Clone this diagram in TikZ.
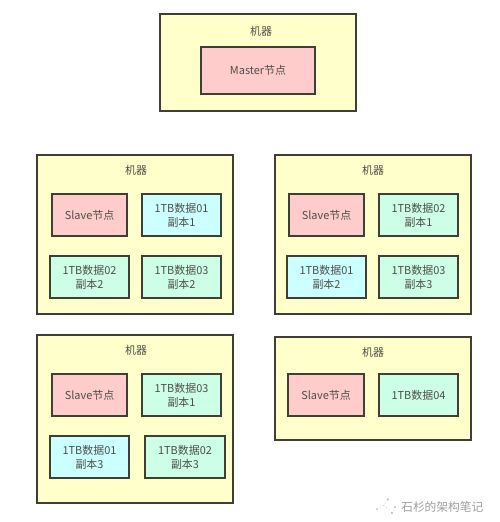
\documentclass[tikz,border=0pt]{standalone}
\usepackage{fontspec}
\setmainfont{Noto Sans CJK SC}
\definecolor{mach}{HTML}{FFFFCC}
\definecolor{pinkb}{HTML}{FFCCCC}
\definecolor{blueb}{HTML}{CCFFFF}
\definecolor{greenb}{HTML}{CCFFE6}
\definecolor{edgec}{HTML}{3F3F38}
\definecolor{txt}{HTML}{4E4E46}
\newcommand{\bx}[7]{%
  \pgfmathsetmacro{\bw}{(#4-#2)*0.75}%
  \pgfmathsetmacro{\bh}{(#5-#3)*0.75}%
  \node[#6, minimum width=\bw pt, minimum height=\bh pt] (#1) at ({(#2+#4)/2},{(#3+#5)/2}) {#7};}
\tikzset{
  x=0.75pt,y=-0.75pt,
  base/.style={draw=edgec,line width=1.1pt,inner sep=0pt,outer sep=0pt,align=center,text=txt,font=\fontsize{8.2}{10.5}\selectfont},
  machine/.style={base,fill=mach},
  slavebox/.style={base,fill=pinkb},
  blue box/.style={base,fill=blueb},
  green box/.style={base,fill=greenb},
  title/.style={text=txt,inner sep=0pt,font=\fontsize{8.2}{10}\selectfont},
  mark text/.style={text=gray!75,inner sep=0pt,font=\fontsize{8.8}{11}\selectfont},
}
\begin{document}
\begin{tikzpicture}
\path[use as bounding box,fill=white] (0,0) rectangle (500,522);
% machines
\bx{m0}{160}{14}{356}{111}{machine}{}
\bx{m1}{37}{155}{233}{314}{machine}{}
\bx{m2}{275}{155}{471}{314}{machine}{}
\bx{m3}{37}{335}{233}{503}{machine}{}
\bx{m4}{275}{337}{471}{440}{machine}{}
\node[title] (t0) at (261,31) {机器};
\node[title] (t1) at (136,170) {机器};
\node[title] (t2) at (373,170) {机器};
\node[title] (t3) at (136,350) {机器};
\node[title] (t4) at (373,352) {机器};
% top
\bx{master}{201}{47}{315}{94}{slavebox}{Master节点}
% left upper
\bx{a}{52}{194}{127}{236}{slavebox}{Slave节点}
\bx{b}{142}{194}{221}{236}{blue box}{1TB数据01\\副本1}
\bx{c}{50}{256}{129}{298}{green box}{1TB数据02\\副本2}
\bx{d}{142}{256}{221}{298}{green box}{1TB数据03\\副本2}
% right upper
\bx{e}{289}{194}{364}{236}{slavebox}{Slave节点}
\bx{f}{379}{194}{458}{236}{green box}{1TB数据02\\副本1}
\bx{g}{287}{256}{366}{298}{blue box}{1TB数据01\\副本2}
\bx{h}{379}{256}{458}{298}{green box}{1TB数据03\\副本3}
% left lower
\bx{i}{52}{374}{127}{416}{slavebox}{Slave节点}
\bx{j}{142}{374}{221}{416}{green box}{1TB数据03\\副本1}
\bx{k}{50}{436}{129}{478}{blue box}{1TB数据01\\副本3}
\bx{l}{145}{436}{225}{478}{green box}{1TB数据02\\副本3}
% right lower
\bx{n}{288}{374}{364}{416}{slavebox}{Slave节点}
\bx{o}{379}{374}{458}{416}{green box}{1TB数据04}
% watermark
\node[mark text,anchor=west] (wm) at (401,507) {石杉的架构笔记};
\draw[gray!55,line width=0.5pt,dotted] (377,509) -- (384,505) -- (388,499) (384,505) -- (392,513) (392,513) -- (395,507);
\fill[gray!55] (377,509) circle (1) (388,499) circle (1) (392,513) circle (1) (395,507) circle (1);
\end{tikzpicture}
\end{document}
